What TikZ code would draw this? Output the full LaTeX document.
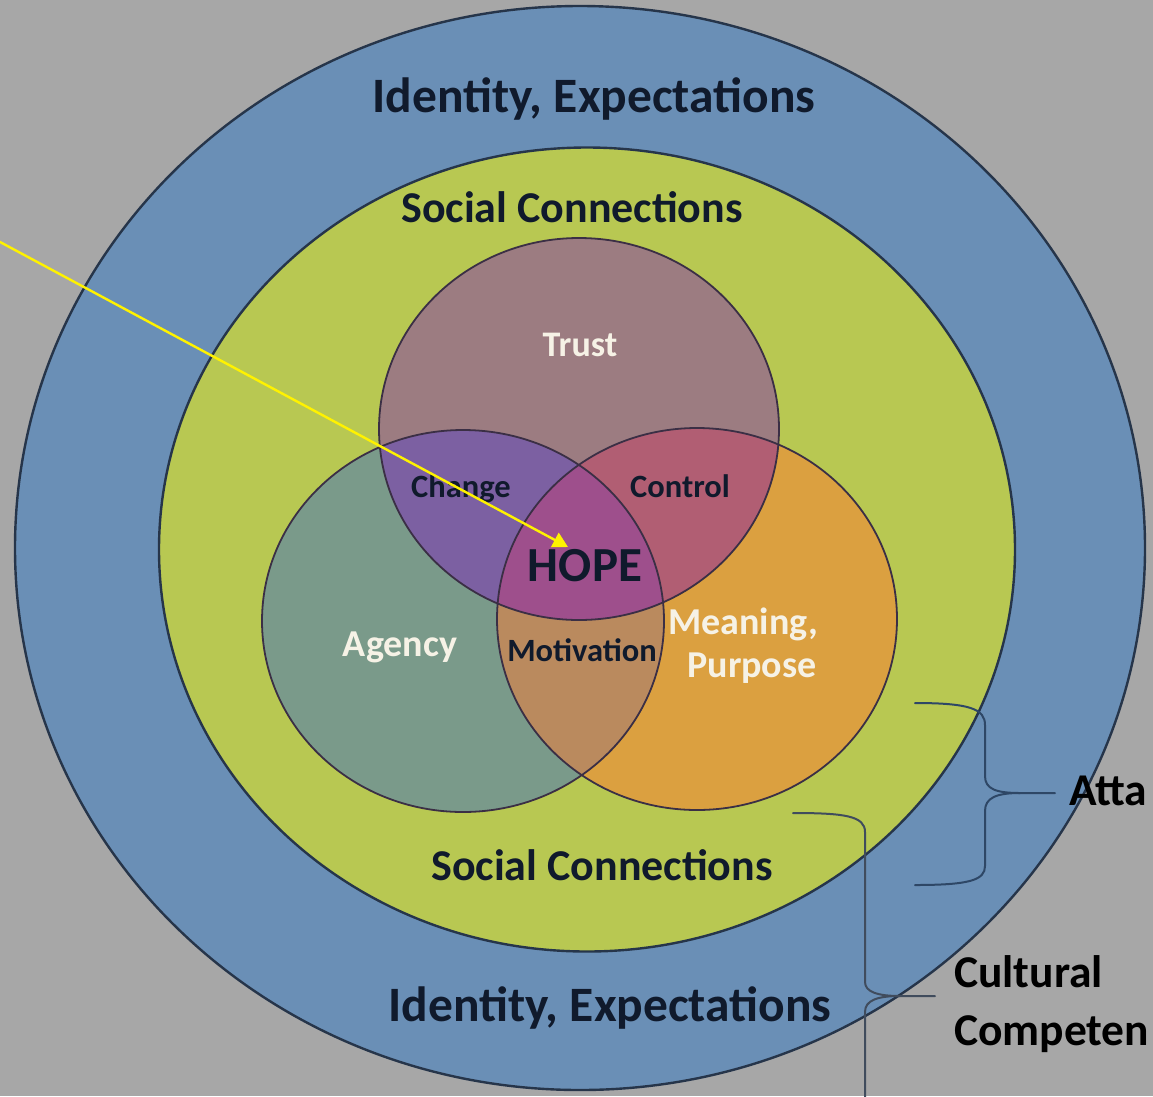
\documentclass[tikz,border=0pt]{standalone}
\usepackage{fontspec}
\setmainfont{Carlito}
\usetikzlibrary{arrows.meta}
\definecolor{bgc}{HTML}{A7A7A7}
\definecolor{blueR}{HTML}{6A8FB6}
\definecolor{greenR}{HTML}{B8C852}
\definecolor{trustC}{HTML}{9C7C81}
\definecolor{agencyC}{HTML}{7A9A8A}
\definecolor{meanC}{HTML}{DBA040}
\definecolor{changeC}{HTML}{7C60A2}
\definecolor{controlC}{HTML}{B15E73}
\definecolor{motivC}{HTML}{BA8A5E}
\definecolor{hopeC}{HTML}{9E4F8C}
\definecolor{ringline}{HTML}{26354A}
\definecolor{vennline}{HTML}{3B2F45}
\definecolor{txtdark}{HTML}{101A2C}
\definecolor{txtwhite}{HTML}{F6F2E6}
\definecolor{bracec}{HTML}{2E4766}
\definecolor{arrowc}{HTML}{FFF200}
\def\outerpath{(580,548) ellipse [x radius=565pt, y radius=542pt]}
\def\greenpath{(587,549.5) ellipse [x radius=428pt, y radius=402pt]}
\def\trustpath{(579,429) ellipse [x radius=200pt, y radius=191pt]}
\def\agencypath{(463,621) ellipse [x radius=201pt, y radius=191pt]}
\def\meanpath{(697,619) ellipse [x radius=200pt, y radius=191pt]}
\begin{document}
\begin{tikzpicture}[x=1pt,y=-1pt,
  ringlbl/.style={font=\fontsize{49.5}{56}\selectfont\bfseries, text=txtdark, inner sep=0pt, anchor=base},
  sclbl/.style={font=\fontsize{44}{50}\selectfont\bfseries, text=txtdark, inner sep=0pt, anchor=base},
  whitelbl/.style={font=\fontsize{38}{44}\selectfont\bfseries, text=txtwhite, inner sep=0pt, anchor=base},
  darklbl/.style={font=\fontsize{32.5}{38}\selectfont\bfseries, text=txtdark, inner sep=0pt, anchor=base},
  sidelbl/.style={font=\fontsize{45.5}{54}\selectfont\bfseries, text=black, inner sep=0pt, anchor=base west},
  bracestyle/.style={draw=bracec, line width=2pt, line cap=round},
  ringedge/.style={draw=ringline, line width=2.4pt},
  vennedge/.style={draw=vennline, line width=1.8pt}]
\clip (0,0) rectangle (1153,1096);
\fill[bgc] (0,0) rectangle (1153,1096);
% rings
\fill[blueR] \outerpath;
\draw[ringedge] \outerpath;
\fill[greenR] \greenpath;
\draw[ringedge] \greenpath;
% venn base
\fill[trustC] \trustpath;
\fill[agencyC] \agencypath;
\fill[meanC] \meanpath;
\begin{scope}
  \clip \trustpath;
  \fill[changeC] \agencypath;
  \fill[controlC] \meanpath;
\end{scope}
\begin{scope}
  \clip \agencypath;
  \fill[motivC] \meanpath;
\end{scope}
\begin{scope}
  \clip \trustpath;
  \clip \agencypath;
  \fill[hopeC] \meanpath;
\end{scope}
\draw[vennedge] \trustpath;
\draw[vennedge] \agencypath;
\draw[vennedge] \meanpath;
% labels
\node[ringlbl] (idtop) at (594,112) {Identity, Expectations};
\node[ringlbl] (idbot) at (610,1021) {Identity, Expectations};
\node[sclbl] (sctop) at (572,222) {Social Connections};
\node[sclbl] (scbot) at (602,880) {Social Connections};
\node[whitelbl, font=\fontsize{36}{42}\selectfont\bfseries] (trust) at (580,356) {Trust};
\node[darklbl] (change) at (461,497) {Change};
\node[darklbl] (control) at (680,497) {Control};
\node[darklbl, font=\fontsize{49}{56}\selectfont\bfseries] (hope) at (585,581) {HOPE};
\node[whitelbl] (agency) at (400,656) {Agency};
\node[darklbl] (motiv) at (582,661) {Motivation};
\node[whitelbl] (meaning) at (743,634) {Meaning,};
\node[whitelbl] (purpose) at (752,677) {Purpose};
\node[sidelbl] (atta) at (1069,805) {Atta};
\node[sidelbl] (cultural) at (954,987) {Cultural};
\node[sidelbl] (compet) at (954,1045) {Competen};
% braces
\coordinate (attatip) at (1055,793);
\coordinate (culttip) at (935,996);
\draw[bracestyle] (915,703) .. controls (970,703) and (985,709) .. (985,725) -- (985,776)
  .. controls (985,789) and (996,793) .. (1020,793) -- (attatip);
\draw[bracestyle] (1020,793) .. controls (996,793) and (985,798) .. (985,811) -- (985,866)
  .. controls (985,880) and (970,885) .. (915,885);
\draw[bracestyle, draw=ringline!80!bgc] (793,813) .. controls (845,813) and (865,816) .. (865,832) -- (865,982)
  .. controls (865,992) and (878,996) .. (900,996) -- (culttip);
\draw[bracestyle, draw=ringline!80!bgc] (900,996) .. controls (878,996) and (865,1000) .. (865,1012) -- (865,1110);
% arrow
\coordinate (arrstart) at (-10,236.6);
\coordinate (hopetip) at (568,547);
\draw[arrowc, line width=2.4pt, -{Triangle[width=16pt,length=15pt]}] (arrstart) -- (hopetip);
\end{tikzpicture}
\end{document}
